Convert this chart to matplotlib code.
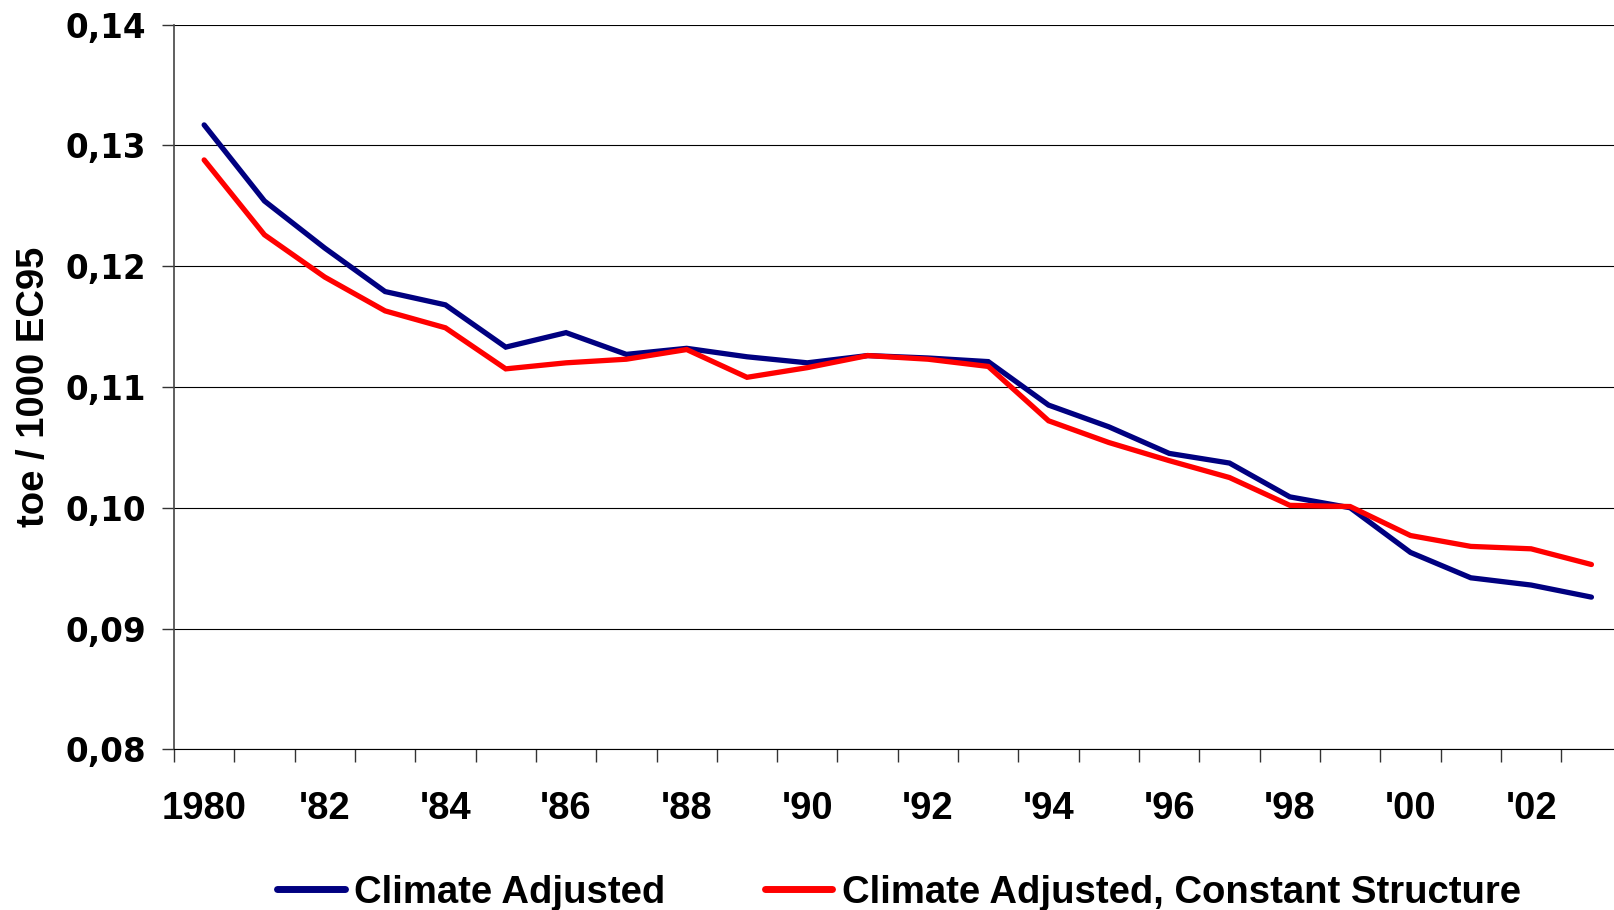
import matplotlib.pyplot as plt
import numpy as np

# data
years = list(range(1980, 2004))
climate_adj = [0.1317, 0.1254, 0.1215, 0.1179, 0.1168, 0.1133, 0.1145, 0.1127,
               0.1132, 0.1125, 0.1120, 0.1126, 0.1124, 0.1121, 0.1085, 0.1067,
               0.1045, 0.1037, 0.1009, 0.1000, 0.0963, 0.0942, 0.0936, 0.0926]
climate_adj_cs = [0.1288, 0.1226, 0.1191, 0.1163, 0.1149, 0.1115, 0.1120, 0.1123,
                  0.1131, 0.1108, 0.1116, 0.1126, 0.1123, 0.1117, 0.1072, 0.1054,
                  0.1039, 0.1025, 0.1002, 0.1001, 0.0977, 0.0968, 0.0966, 0.0953]
x_labels = ['1980', "'82", "'84", "'86", "'88", "'90", "'92", "'94", "'96", "'98", "'00", "'02"]
y_ticks = [0.08, 0.09, 0.10, 0.11, 0.12, 0.13, 0.14]
y_labels = ['0,08', '0,09', '0,10', '0,11', '0,12', '0,13', '0,14']

fig = plt.figure(figsize=(16.14, 9.10), dpi=100)
ax = fig.add_axes([0.1078, 0.1766, 0.8969, 0.7963])

idx = np.arange(len(years))
ax.plot(idx, climate_adj, color='#000080', lw=3.8, solid_capstyle='round',
        solid_joinstyle='miter', label='Climate Adjusted', zorder=3)
ax.plot(idx, climate_adj_cs, color='#ff0000', lw=3.8, solid_capstyle='round',
        solid_joinstyle='miter', label='Climate Adjusted, Constant Structure', zorder=3)

ax.set_xlim(-0.5, len(years) - 0.5)
ax.set_ylim(0.08, 0.14)

# tick marks on the category boundaries, labels on every second year
ax.set_xticks(np.arange(len(years) + 1) - 0.5)
ax.set_xticklabels([])
ax.set_xticks(idx[::2], x_labels, minor=True)
ax.tick_params(axis='x', which='major', direction='out', length=9, width=1, color='#333333')
ax.tick_params(axis='x', which='minor', length=0, pad=30)
for t in ax.get_xticklabels(minor=True):
    t.set_fontfamily('Liberation Sans')
    t.set_fontweight('bold')
    t.set_fontsize(27.5)

ax.set_yticks(y_ticks, y_labels)
ax.tick_params(axis='y', direction='out', length=9, width=1, color='#333333', pad=11)
for t in ax.get_yticklabels():
    t.set_fontfamily('DejaVu Sans')
    t.set_fontweight('bold')
    t.set_fontsize(23.5)

ax.yaxis.grid(True, color='black', lw=0.8)
ax.set_axisbelow(True)
for s in ['top', 'right']:
    ax.spines[s].set_visible(False)
ax.spines['left'].set_color('#444444')
ax.spines['left'].set_linewidth(1.2)
ax.spines['bottom'].set_color('black')
ax.spines['bottom'].set_linewidth(0.8)

ax.set_ylabel('toe / 1000 EC95', fontfamily='Liberation Sans', fontweight='bold',
              fontsize=27.5, va='center')
ax.yaxis.set_label_coords(-0.097, 0.5)

fig.legend(loc='center', bbox_to_anchor=(0.557, 0.019), ncol=2, frameon=False,
           prop={'family': 'Liberation Sans', 'weight': 'bold', 'size': 27.5},
           handlelength=1.76, handletextpad=0.25, columnspacing=2.6,
           borderaxespad=0, borderpad=0)
for h in fig.legends[0].get_lines():
    h.set_linewidth(5)

fig.savefig('out.png', dpi=100)
